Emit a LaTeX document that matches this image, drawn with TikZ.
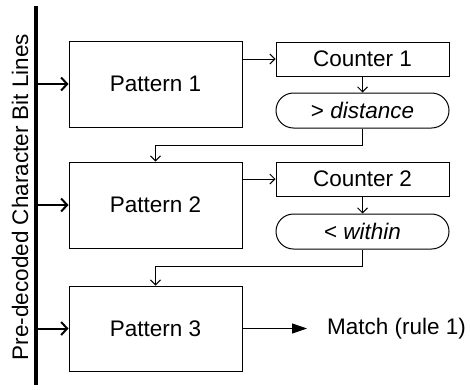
\documentclass[tikz,border=0pt]{standalone}
\usepackage{fontspec}
\setmainfont{Liberation Sans}
\usetikzlibrary{arrows.meta,shapes.misc}

\begin{document}
\begin{tikzpicture}[x=1pt,y=-1pt,font=\fontsize{22.5}{26}\selectfont,
        pat/.style={draw,line width=1pt,minimum width=173pt,minimum height=86pt,inner sep=0pt},
        cnt/.style={draw,line width=1pt,minimum width=173pt,minimum height=34pt,inner sep=0pt},
        cond/.style={draw,line width=1pt,rounded rectangle,minimum width=173pt,minimum height=35pt,inner sep=0pt},
        link/.style={line width=1pt,-{Straight Barb[length=5pt,width=10pt]}},
        bit/.style={line width=2pt,-{Straight Barb[length=6pt,width=13pt]}}]
        \useasboundingbox(0,0)rectangle(470,389);

        \coordinate(bartop)at(36,6);
        \coordinate(barbot)at(36,385);
        \coordinate(bar)at(36,0);
        \draw[line width=4pt](bartop)--(barbot);
        \node[rotate=90](lbl)at(20,197){Pre-decoded Character Bit Lines};

        \node[pat](p1)at(155.5,84){Pattern 1};
        \node[pat](p2)at(155.5,205){Pattern 2};
        \node[pat,minimum height=85pt](p3)at(155.5,328.5){Pattern 3};

        \node[cnt](c1)at(362.5,59){Counter 1};
        \node[cond](d1)at(362.5,110.5){> \textit{distance}};
        \node[cnt](c2)at(362.5,179){Counter 2};
        \node[cond](d2)at(362.5,231.5){< \textit{within}};
        \node[anchor=west,inner sep=0pt](m)at(327,328.5){Match (rule 1)};

        \draw[bit](p1.west-|bar)--(p1.west);
        \draw[bit](p2.west-|bar)--(p2.west);
        \draw[bit](p3.west-|bar)--(p3.west);

        \draw[link](p1.east|-c1.west)--(c1.west);
        \draw[link](c1.south)--(d1.north);
        \coordinate(fb1)at(155.5,145);
        \draw[link](d1.south)|-(fb1)--(p2.north);

        \draw[link](p2.east|-c2.west)--(c2.west);
        \draw[link](c2.south)--(d2.north);
        \coordinate(fb2)at(155.5,266);
        \draw[link](d2.south)|-(fb2)--(p3.north);

        \draw[line width=1pt,-{Triangle[length=15pt,width=10pt]},shorten >=20pt](p3.east)--(m.west);
\end{tikzpicture}
\end{document}
